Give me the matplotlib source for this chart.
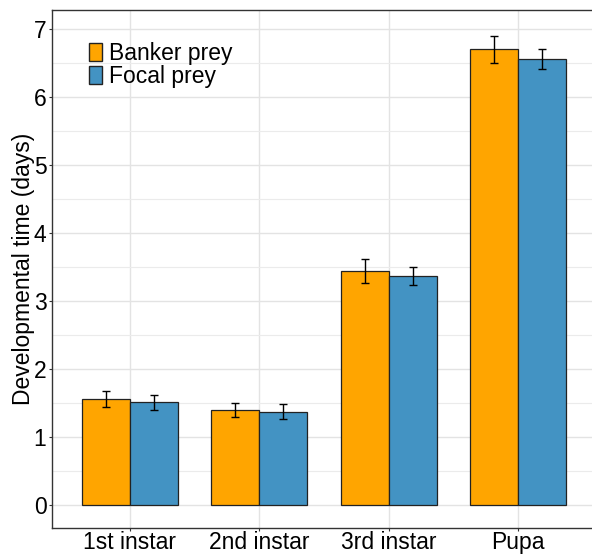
import matplotlib
matplotlib.use('Agg')
from matplotlib import pyplot as plt
from matplotlib.patches import Patch
import numpy as np

plt.rcParams['font.family'] = ['Liberation Sans', 'DejaVu Sans']

stages = ['1st instar', '2nd instar', '3rd instar', 'Pupa']
banker = [1.56, 1.40, 3.44, 6.70]
banker_se = [0.115, 0.105, 0.18, 0.20]
focal = [1.51, 1.37, 3.37, 6.56]
focal_se = [0.11, 0.11, 0.135, 0.15]
yticks = [0, 1, 2, 3, 4, 5, 6, 7]

orange = '#FFA500'
blue = '#4393C3'
w = 0.37

fig = plt.figure(figsize=(5.92, 5.56), dpi=100)
ax = fig.add_axes([52/592, 1 - 528/556, 544/592, 518/556])

x = np.arange(1, len(stages) + 1)
ax.bar(x - w/2, banker, w, color=orange, edgecolor='#222222', linewidth=0.9, zorder=2)
ax.bar(x + w/2, focal, w, color=blue, edgecolor='#222222', linewidth=0.9, zorder=2)
ax.errorbar(x - w/2, banker, yerr=banker_se, fmt='none', ecolor='black',
            elinewidth=1, capsize=3, capthick=1, zorder=3)
ax.errorbar(x + w/2, focal, yerr=focal_se, fmt='none', ecolor='black',
            elinewidth=1, capsize=3, capthick=1, zorder=3)

ax.set_xlim(0.4, 4.6)
ax.set_ylim(-0.34, 7.28)
ax.set_xticks(x)
ax.set_xticklabels(stages, fontsize=16.5)
ax.set_yticks(yticks)
ax.set_yticklabels([str(v) for v in yticks], fontsize=16.5)
ax.set_yticks(np.arange(0.5, 7, 1), minor=True)
ax.grid(which='major', color='#E3E3E3', linewidth=1, zorder=0)
ax.grid(which='minor', axis='y', color='#EBEBEB', linewidth=0.8, zorder=0)
ax.set_axisbelow(True)
ax.tick_params(which='major', length=2.5, color='#333333', width=0.8)
ax.tick_params(axis='x', pad=0)
ax.tick_params(axis='y', pad=1.5)
ax.tick_params(which='minor', length=0)
for s in ax.spines.values():
    s.set_color('#333333')
    s.set_linewidth(1)
ax.set_ylabel('Developmental time (days)', fontsize=16.5, labelpad=-1)

handles = [Patch(facecolor=orange, edgecolor='#222222', label='Banker prey'),
           Patch(facecolor=blue, edgecolor='#222222', label='Focal prey')]
fig.legend(handles=handles, loc='upper left', bbox_to_anchor=(89/592, 1 - 42/556),
           frameon=False, fontsize=16.5, handlelength=0.57, handleheight=0.87,
           handletextpad=0.3, labelspacing=0.0, borderpad=0, borderaxespad=0)

fig.savefig('out.png', dpi=100)
